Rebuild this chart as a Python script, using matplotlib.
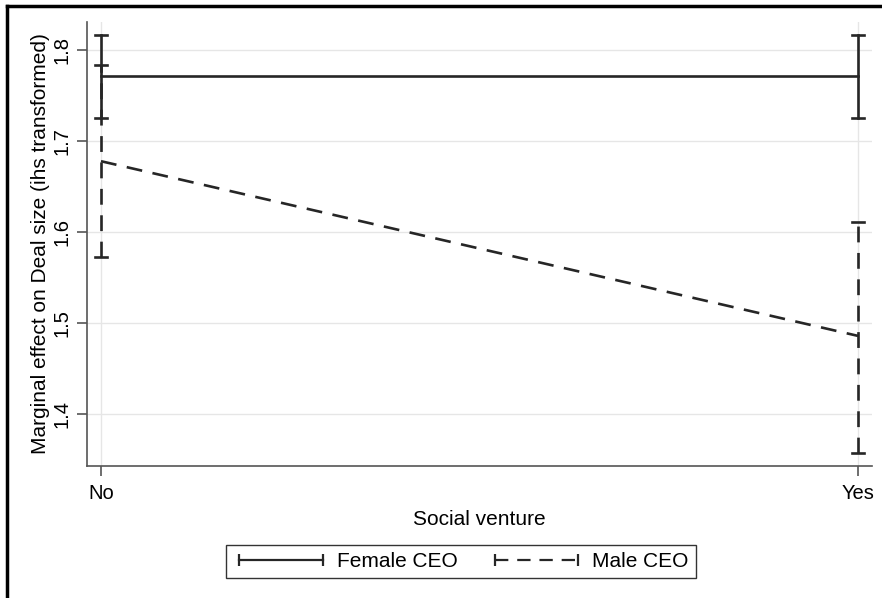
import numpy as np
import matplotlib.pyplot as plt
from matplotlib.lines import Line2D

plt.rcParams['font.family'] = ['Liberation Sans', 'DejaVu Sans']

categories = ['No', 'Yes']
female_mean = [1.772, 1.772]
female_lo = [1.726, 1.726]
female_hi = [1.817, 1.817]
male_mean = [1.678, 1.486]
male_lo = [1.573, 1.357]
male_hi = [1.784, 1.611]

ink = '#262626'
x = np.arange(len(categories))

fig = plt.figure(figsize=(8.82, 5.98), dpi=100)
ax = fig.add_axes([87 / 882, 1 - 466 / 598, 785 / 882, 444 / 598])

def draw(mean, lo, hi, ls):
    mean, lo, hi = map(np.asarray, (mean, lo, hi))
    dash = (6, 4) if ls == '--' else (None, None)
    ax.plot(x, mean, color=ink, lw=1.9, ls=ls, dashes=dash)
    for xi, l, h in zip(x, lo, hi):
        ax.plot([xi, xi], [l, h], color=ink, lw=1.9, ls=ls, dashes=dash, zorder=3)
        for yv in (l, h):
            ax.plot([xi - 0.008, xi + 0.008], [yv, yv], color=ink, lw=1.9, zorder=3)

draw(female_mean, female_lo, female_hi, '-')
draw(male_mean, male_lo, male_hi, '--')

ax.set_xlim(-0.0185, 1.0185)
ax.set_ylim(1.343, 1.831)
ax.set_xticks(x)
ax.set_xticklabels(categories)
ax.set_yticks([1.4, 1.5, 1.6, 1.7, 1.8])
ax.set_yticklabels(['1.4', '1.5', '1.6', '1.7', '1.8'], rotation=90, va='center')
ax.grid(True, color='#e6e6e6', lw=1)
ax.set_axisbelow(True)
for s in ('top', 'right'):
    ax.spines[s].set_visible(False)
for s in ('left', 'bottom'):
    ax.spines[s].set_color('#555555')
    ax.spines[s].set_linewidth(1.2)
ax.tick_params(direction='out', length=7, width=1.2, color='#555555', labelsize=14.5)
ax.tick_params(axis='x', pad=6)
ax.tick_params(axis='y', pad=4)
ax.set_xlabel('Social venture', fontsize=15, labelpad=5)
ax.set_ylabel('Marginal effect on Deal size (ihs transformed)', fontsize=15, labelpad=2)

handles = [
    Line2D([], [], color=ink, lw=1.6, marker='|', markersize=9, markeredgewidth=1.6),
    Line2D([], [], color=ink, lw=1.6, ls='--', dashes=(6, 4), marker='|', markersize=9,
           markeredgewidth=1.6),
]
leg = fig.legend(handles, ['Female CEO', 'Male CEO'], loc='center', ncol=2,
                 bbox_to_anchor=(461 / 882, 1 - 561.5 / 598), numpoints=2,
                 handlelength=4.6, columnspacing=1.45, fontsize=15, fancybox=False,
                 edgecolor='#333333', framealpha=1, borderpad=0.35, handletextpad=0.4)
leg.get_frame().set_linewidth(1.0)

# outer frame lines along the top and left edges
fig.add_artist(Line2D([7 / 882, 1], [1 - 6 / 598] * 2, color='black', lw=2.5,
                      transform=fig.transFigure))
fig.add_artist(Line2D([7 / 882] * 2, [0, 1 - 6 / 598], color='black', lw=2.5,
                      transform=fig.transFigure))

fig.savefig('out.png', dpi=100)
